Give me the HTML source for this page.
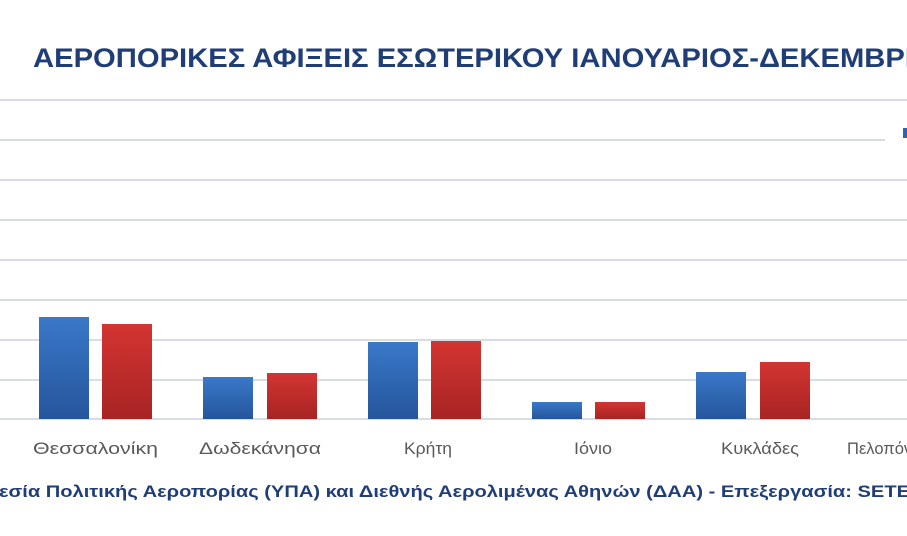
<!DOCTYPE html>
<html><head><meta charset="utf-8"><style>
html,body{margin:0;padding:0;background:#fff;width:907px;height:536px;overflow:hidden}
</style></head><body>
<svg width="907" height="536" xmlns="http://www.w3.org/2000/svg">
<defs>
<linearGradient id="b" x1="0" y1="0" x2="0" y2="1"><stop offset="0" stop-color="#3a78c9"/><stop offset="1" stop-color="#25569c"/></linearGradient>
<linearGradient id="r" x1="0" y1="0" x2="0" y2="1"><stop offset="0" stop-color="#d33532"/><stop offset="1" stop-color="#a82424"/></linearGradient>
</defs>
<rect width="907" height="536" fill="#fff"/>
<g stroke="#d9dde3" stroke-width="2">
<line x1="0" y1="100" x2="907" y2="100"/>
<line x1="0" y1="140" x2="885" y2="140"/>
<line x1="0" y1="180" x2="907" y2="180"/>
<line x1="0" y1="220" x2="907" y2="220"/>
<line x1="0" y1="260" x2="907" y2="260"/>
<line x1="0" y1="300" x2="907" y2="300"/>
<line x1="0" y1="340" x2="907" y2="340"/>
<line x1="0" y1="380" x2="907" y2="380"/>
<line x1="0" y1="419" x2="907" y2="419"/>
</g>
<rect x="903" y="128" width="4" height="10" fill="#2e63ad"/>
<g>
<rect x="39" y="317" width="50" height="102" fill="url(#b)"/>
<rect x="102" y="324" width="50" height="95" fill="url(#r)"/>
<rect x="203" y="377" width="50" height="42" fill="url(#b)"/>
<rect x="267" y="373" width="50" height="46" fill="url(#r)"/>
<rect x="368" y="342" width="50" height="77" fill="url(#b)"/>
<rect x="431" y="341" width="50" height="78" fill="url(#r)"/>
<rect x="532" y="402" width="50" height="17" fill="url(#b)"/>
<rect x="595" y="402" width="50" height="17" fill="url(#r)"/>
<rect x="696" y="372" width="50" height="47" fill="url(#b)"/>
<rect x="760" y="362" width="50" height="57" fill="url(#r)"/>
</g>
<text x="33" y="67" font-family="Liberation Sans, sans-serif" font-size="27" font-weight="bold" fill="#1f3e78" textLength="880" lengthAdjust="spacingAndGlyphs">ΑΕΡΟΠΟΡΙΚΕΣ ΑΦΙΞΕΙΣ ΕΣΩΤΕΡΙΚΟΥ ΙΑΝΟΥΑΡΙΟΣ-ΔΕΚΕΜΒΡΙ</text>
<g font-family="Liberation Sans, sans-serif" font-size="17" fill="#595959">
<text x="33" y="454" textLength="125" lengthAdjust="spacingAndGlyphs">Θεσσαλονίκη</text>
<text x="199" y="454" textLength="122" lengthAdjust="spacingAndGlyphs">Δωδεκάνησα</text>
<text x="404" y="454" textLength="48" lengthAdjust="spacingAndGlyphs">Κρήτη</text>
<text x="574" y="454" textLength="38" lengthAdjust="spacingAndGlyphs">Ιόνιο</text>
<text x="721" y="454" textLength="78" lengthAdjust="spacingAndGlyphs">Κυκλάδες</text>
<text x="847" y="454" textLength="110" lengthAdjust="spacingAndGlyphs">Πελοπόννησος</text>
</g>
<text x="-1" y="497" font-family="Liberation Sans, sans-serif" font-size="17" font-weight="bold" fill="#1f3e78" textLength="911" lengthAdjust="spacingAndGlyphs">εσία Πολιτικής Αεροπορίας (ΥΠΑ)  και Διεθνής  Αερολιμένας Αθηνών (ΔΑΑ) - Επεξεργασία: SETE</text>
</svg>
</body></html>
